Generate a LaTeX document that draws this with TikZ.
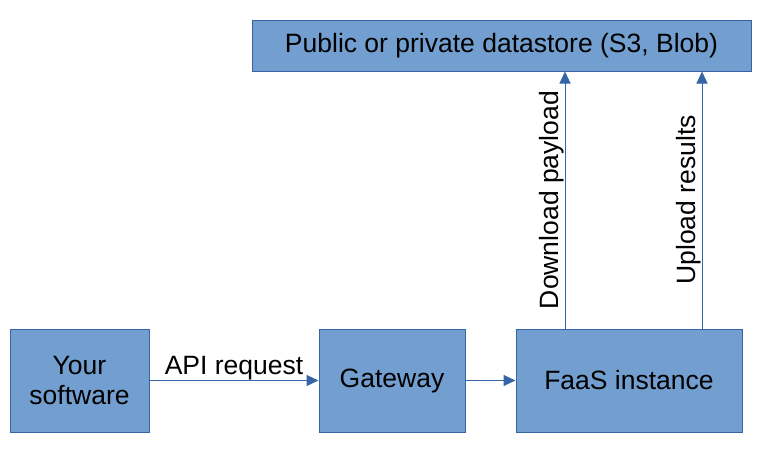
\documentclass[tikz,border=0pt]{standalone}
\usepackage{fontspec}
\setmainfont{Liberation Sans}
\usetikzlibrary{arrows.meta}
\definecolor{boxfill}{HTML}{729FCF}
\definecolor{boxline}{HTML}{3465A4}
\begin{document}
\begin{tikzpicture}[x=1pt,y=-1pt,
  box/.style={draw=boxline, fill=boxfill, line width=1pt, inner sep=0pt,
    align=center, font=\fontsize{26.5}{29.5}\selectfont},
  arr/.style={draw=boxline, line width=1pt, -{Triangle[length=12pt,width=11pt]}},
  lbl/.style={font=\fontsize{26.5}{29.5}\selectfont, inner sep=0.5pt, text=black}]
\useasboundingbox (0,0) rectangle (768,450);
\node[box, minimum width=139pt, minimum height=103pt] (soft) at (79.5,380.5) {Your\\software};
\node[box, minimum width=146pt, minimum height=103pt] (gw) at (392,380.5) {Gateway};
\node[box, minimum width=226pt, minimum height=103pt] (faas) at (629,380.5) {FaaS instance};
\node[box, minimum width=499pt, minimum height=51pt] (ds) at (501.5,45.5) {Public or private datastore (S3, Blob)};
\draw[arr] (soft.east) -- node[lbl, midway, above] {API request} (gw.west);
\draw[arr] (gw.east) -- (faas.west);
\draw[arr] ([xshift=-64pt]faas.north) -- node[lbl, midway, sloped, above] {Download payload} ([xshift=-64pt]faas.north |- ds.south);
\draw[arr] ([xshift=73pt]faas.north) -- node[lbl, midway, sloped, above] {Upload results} ([xshift=73pt]faas.north |- ds.south);
\end{tikzpicture}
\end{document}
